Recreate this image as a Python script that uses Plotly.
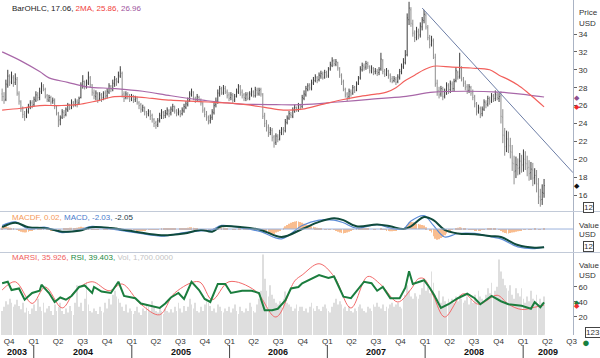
import pandas as pd
import plotly.graph_objects as go
from plotly.subplots import make_subplots

# ---------------- weekly price bars (USD) ----------------
close = [
27.0,26.6,28.4,29.3,28.6,29.2,28.5,29.0,27.4,26.5,
25.6,25.0,24.8,25.4,25.9,26.3,26.0,26.7,27.2,26.9,
27.6,28.2,27.9,27.0,26.7,26.9,26.4,26.6,25.9,25.2,
24.3,24.6,25.3,24.9,25.6,26.1,25.7,26.4,26.0,26.5,
26.2,26.8,28.3,28.7,28.1,28.6,29.2,28.4,27.5,27.1,
27.4,26.7,27.2,26.8,27.3,27.0,27.6,28.2,27.8,28.5,
28.9,28.6,29.4,30.0,27.2,26.8,27.3,27.0,26.7,27.1,
26.6,26.9,26.4,26.0,25.6,25.8,25.3,25.0,25.4,24.8,
24.5,24.0,23.8,24.3,24.9,25.3,24.9,25.2,25.5,25.1,
25.6,25.9,25.4,25.1,25.4,25.0,25.5,25.9,26.2,26.5,
27.3,27.6,26.9,26.6,27.0,26.7,26.3,25.5,25.0,24.6,
24.2,24.6,25.3,26.0,26.5,27.4,27.9,27.5,28.0,27.6,
27.1,26.8,27.2,26.6,27.0,27.6,28.2,27.4,27.1,26.9,
27.2,26.8,27.3,27.6,27.2,27.8,27.4,27.7,27.3,24.8,
24.0,23.5,22.9,23.3,22.4,21.8,22.6,22.2,23.0,23.3,
23.1,24.2,24.6,25.1,24.9,25.5,25.8,25.6,26.0,25.8,
26.9,27.3,27.9,28.2,28.0,28.6,28.9,29.2,28.8,29.4,
29.6,29.1,29.7,29.4,30.0,30.6,31.0,30.7,30.9,30.2,
29.4,28.6,27.9,27.2,26.9,27.6,27.3,28.0,27.7,28.4,
29.0,30.1,30.5,30.2,30.7,30.4,29.9,30.2,29.7,29.9,
29.6,30.0,31.2,29.8,29.5,29.9,29.3,28.9,28.7,29.0,
28.6,29.2,29.8,30.4,30.9,31.6,35.8,36.9,35.2,34.1,
33.6,34.3,33.8,34.9,35.6,36.2,34.8,33.6,32.8,33.3,
31.6,28.4,27.6,27.2,27.9,27.0,27.6,28.3,27.7,28.5,
27.9,28.7,29.9,29.2,30.2,29.0,28.4,28.0,27.6,28.1,
27.4,26.9,26.2,25.3,25.8,25.0,25.6,26.4,26.1,26.8,
26.5,27.1,26.7,27.3,26.9,27.0,24.8,22.7,21.4,22.3,
21.6,20.9,19.6,18.6,19.4,19.0,19.8,19.3,20.1,19.6,
19.0,18.4,18.9,17.9,18.2,17.3,15.9,15.4,16.3,17.06]

open_ = [
27.3,27.0,26.7,28.3,29.2,28.7,29.1,28.6,28.9,27.3,
26.4,25.7,25.1,24.9,25.3,25.8,26.3,26.1,26.6,27.1,
26.9,27.5,28.1,27.8,27.1,26.6,26.9,26.5,26.5,25.8,
25.1,24.4,24.7,25.2,25.0,25.5,26.0,25.8,26.3,26.1,
26.4,26.3,26.9,28.2,28.6,28.2,28.5,29.1,28.3,27.4,
27.0,27.3,26.8,27.1,26.9,27.4,27.1,27.5,28.1,27.9,
28.4,28.8,28.7,29.3,29.6,27.3,26.9,27.2,27.1,26.8,
27.0,26.7,26.8,26.3,26.1,25.5,25.7,25.2,25.1,25.3,
24.9,24.4,24.1,23.9,24.4,24.8,25.2,24.9,25.1,25.4,
25.2,25.5,25.8,25.4,25.2,25.3,25.1,25.4,25.8,26.1,
26.6,27.2,27.5,26.8,26.7,26.9,26.6,26.2,25.6,25.1,
24.7,24.3,24.7,25.2,26.1,26.4,27.3,27.8,27.4,27.9,
27.5,27.2,26.9,27.1,26.7,27.1,27.5,28.1,27.5,27.2,
26.8,27.3,26.9,27.2,27.5,27.1,27.7,27.3,27.8,27.2,
24.9,24.1,23.6,23.0,23.2,22.5,21.9,22.5,22.3,22.9,
23.4,23.2,24.1,24.6,25.0,24.8,25.4,25.7,25.5,26.1,
25.9,26.8,27.2,27.8,28.3,27.9,28.5,28.8,29.1,28.9,
29.3,29.5,29.2,29.6,29.3,30.1,30.5,31.0,30.6,30.8,
30.1,29.3,28.7,27.8,27.3,27.0,27.5,27.4,28.1,27.8,
28.5,29.1,30.0,30.4,30.3,30.6,30.3,29.8,30.1,29.8,
29.8,29.7,30.1,31.0,29.9,29.6,29.8,29.4,29.0,28.8,
28.9,28.7,29.1,29.7,30.3,30.8,31.7,35.6,36.7,35.1,
34.0,33.7,34.2,33.9,34.8,35.5,36.1,34.7,33.5,32.9,
33.2,31.4,28.5,27.7,27.3,27.8,27.1,27.5,28.2,27.8,
28.4,27.9,28.8,29.7,29.3,30.1,28.9,28.5,28.1,27.7,
28.0,27.5,27.0,26.1,25.4,25.7,25.1,25.6,26.3,26.2,
26.7,26.6,27.0,26.8,27.2,26.8,27.1,24.7,22.6,21.5,
22.2,21.5,20.8,19.5,18.7,19.3,19.1,19.7,19.4,20.0,
19.5,19.1,18.5,18.8,18.0,18.1,17.2,15.8,15.5,16.2]

high = [
27.9,27.5,28.9,30.0,29.5,29.8,29.4,29.6,29.2,27.6,
26.6,25.9,25.4,25.7,26.2,26.6,26.6,27.0,27.6,27.5,
28.0,28.6,28.4,28.0,27.3,27.2,27.1,26.9,26.8,26.0,
25.3,24.9,25.6,25.5,25.8,26.3,26.2,26.7,26.5,26.8,
26.7,27.0,28.6,29.4,28.8,28.9,29.8,29.3,28.4,27.8,
27.7,27.5,27.5,27.4,27.6,27.7,27.9,28.5,28.3,28.9,
29.3,29.1,29.8,30.4,29.8,27.6,27.6,27.5,27.3,27.3,
27.2,27.1,27.0,26.5,26.3,26.1,25.9,25.4,25.6,25.5,
25.1,24.6,24.3,24.6,25.2,25.6,25.4,25.5,25.8,25.6,
25.9,26.2,26.0,25.6,25.7,25.5,25.8,26.2,26.5,26.9,
27.6,27.9,27.6,27.0,27.3,27.1,26.8,26.4,25.8,25.4,
24.9,25.0,25.6,26.3,26.9,27.8,28.2,28.1,28.3,28.2,
27.8,27.5,27.5,27.4,27.3,27.9,28.4,28.3,27.8,27.4,
27.5,27.5,27.6,28.0,27.7,28.1,28.0,28.0,28.0,27.4,
25.2,24.4,23.9,23.6,23.5,22.7,22.9,22.8,23.3,23.6,
23.6,24.5,24.9,25.4,25.3,25.8,26.1,25.9,26.3,26.2,
27.2,27.7,28.2,28.5,28.5,28.9,29.2,29.5,29.3,29.7,
29.9,29.8,30.0,29.9,30.3,30.9,31.4,31.2,31.2,30.9,
30.3,29.6,28.9,28.0,27.5,27.9,27.8,28.3,28.2,28.7,
29.3,30.4,30.8,30.7,31.0,30.9,30.5,30.5,30.3,30.2,
30.1,30.3,31.9,31.2,30.1,30.2,30.0,29.6,29.3,29.3,
29.2,29.5,30.1,30.7,31.3,32.2,36.3,37.6,37.0,35.6,
34.4,34.8,34.6,35.3,35.9,36.7,36.4,35.0,33.9,33.8,
33.5,31.8,28.9,28.1,28.2,28.1,27.9,28.6,28.5,28.8,
28.7,29.0,30.3,29.9,31.9,30.4,29.2,28.8,28.4,28.4,
28.2,27.8,27.2,26.4,26.1,25.9,25.9,26.7,26.6,27.1,
27.0,27.4,27.3,27.7,27.5,27.4,27.6,25.6,23.5,23.2,
23.1,22.4,21.6,20.4,20.3,20.1,20.7,20.5,21.1,20.9,
20.4,19.9,19.7,19.6,19.0,18.8,17.9,16.7,17.2,17.8]

low = [
26.5,26.2,26.5,28.0,28.2,28.4,28.1,28.3,27.1,26.1,
25.3,24.6,24.3,24.6,25.1,25.6,25.7,25.9,26.4,26.5,
26.6,27.3,27.6,26.8,26.4,26.4,26.1,26.2,25.6,24.9,
23.6,23.8,24.5,24.6,24.8,25.3,25.5,25.6,25.8,25.9,
25.8,26.1,26.8,27.9,27.8,27.9,28.3,28.0,27.1,26.7,
26.6,26.3,26.5,26.4,26.6,26.7,26.8,27.3,27.5,27.6,
28.1,28.2,28.5,29.1,26.9,26.4,26.7,26.7,26.4,26.5,
26.3,26.4,26.1,25.6,25.2,25.3,24.9,24.6,24.8,24.4,
24.1,23.6,23.4,23.6,24.1,24.5,24.5,24.6,24.9,24.7,
24.9,25.3,25.1,24.8,24.9,24.7,24.9,25.2,25.6,25.9,
26.4,27.0,26.6,26.3,26.5,26.4,26.0,25.2,24.7,24.3,
23.9,24.0,24.4,25.0,25.8,26.2,27.0,27.2,27.2,27.3,
26.8,26.5,26.6,26.3,26.4,26.9,27.3,27.1,26.8,26.5,
26.5,26.6,26.6,27.0,26.9,26.9,27.1,27.1,27.0,24.5,
23.6,23.1,22.5,22.7,22.0,21.3,21.6,21.9,22.1,22.7,
22.7,23.0,23.9,24.4,24.6,24.6,25.2,25.3,25.3,25.5,
25.7,26.6,27.0,27.6,27.7,27.7,28.3,28.6,28.5,28.7,
29.0,28.9,29.0,29.1,29.1,29.9,30.3,30.4,30.4,29.9,
29.1,28.3,27.6,26.9,26.5,26.7,27.0,27.2,27.4,27.6,
28.3,28.9,29.8,29.9,30.0,30.1,29.6,29.6,29.4,29.5,
29.3,29.4,29.9,29.5,29.2,29.3,29.0,28.6,28.5,28.6,
28.3,28.5,28.9,29.5,30.1,30.6,31.5,35.0,34.8,33.7,
33.1,33.3,33.4,33.6,34.4,35.2,34.5,33.3,32.4,32.6,
31.2,28.1,27.1,26.8,27.0,26.6,26.8,27.2,27.3,27.4,
27.6,27.6,28.6,28.9,29.0,28.7,28.1,27.7,27.3,27.4,
27.1,26.6,25.8,24.9,25.1,24.6,24.8,25.4,25.7,25.9,
26.1,26.3,26.4,26.5,26.6,26.4,24.0,21.8,20.4,20.8,
20.7,20.1,18.7,17.2,17.9,18.2,18.3,18.5,18.6,18.8,
18.1,17.6,17.7,17.0,17.2,16.3,15.0,14.7,14.9,15.7]

# ---------------- moving averages (week index, value) ----------------
ma1_wk = [0,10,20,30,40,50,60,70,80,90,100,110,120,130,140,150,160,170,180,190,200,205,210,215,220,225,230,240,250,260,265,270,275,280,285,289]
ma1 = [25.5,25.7,26.0,26.0,26.1,26.5,27.0,27.0,26.8,26.6,26.5,26.4,26.3,26.1,25.8,25.5,25.6,26.1,26.6,27.0,27.3,27.5,28.0,28.8,29.4,30.0,30.4,30.3,30.2,30.0,29.4,28.9,28.3,27.5,26.6,25.86]
ma2_wk = [0,10,20,25,35,45,60,75,90,107,125,146,160,179,196,214,230,248,265,280,289]
ma2 = [32.0,31.0,29.8,29.1,28.6,28.1,27.9,27.6,27.1,26.6,26.2,26.1,26.1,26.4,26.7,27.0,27.5,27.6,27.5,27.2,26.96]

# ---------------- drawn trend line ----------------
trend_dates = ['2007-12-21', '2009-07-06']
trend_vals = [36.9, 18.5]

# ---------------- MACD ----------------
macd_wk = [0,7,14,23,32,41,48,58,71,85,97,106,112,117,128,138,149,160,169,177,182,189,200,207,214,218,225,230,236,243,252,261,266,275,284,289]
macd = [0.4,0.8,0.0,0.2,-0.4,-0.1,0.3,0.0,-0.4,-0.8,-0.4,-0.2,-0.1,0.4,0.1,-0.3,-1.1,0.4,1.0,1.0,0.7,0.1,0.5,0.1,0.0,0.9,1.5,0.4,-0.9,-0.5,-0.5,-0.9,-1.1,-2.0,-2.2,-2.03]
signal = [0.2,0.7,0.2,0.1,-0.3,-0.2,0.2,0.1,-0.3,-0.7,-0.5,-0.1,-0.3,0.3,0.2,-0.1,-0.9,0.0,0.8,1.2,1.0,0.3,0.5,0.3,0.0,0.3,1.35,1.0,-0.1,-0.5,-0.6,-0.8,-0.9,-1.8,-2.1,-2.05]
macdf = [
.2,.25,.3,.2,.15,.1,.05,0,-.1,-.2,
-.3,-.35,-.4,-.35,-.3,-.2,-.15,-.1,0,.05,
.1,.1,.05,0,-.05,-.1,-.15,-.2,-.2,-.15,
-.1,-.05,0,.05,.1,.1,.15,.15,.1,.1,
.15,.2,.25,.2,.15,.1,.05,0,-.05,-.1,
-.1,-.05,0,0,-.05,-.1,-.05,0,.05,.1,
.1,.15,.1,.05,-.1,-.15,-.2,-.2,-.15,-.1,
-.1,-.1,-.15,-.15,-.2,-.2,-.15,-.1,-.1,-.05,
-.05,-.1,-.1,-.05,0,.05,.05,.1,.1,.1,
.1,.05,.05,0,0,.05,.05,.1,.1,.15,
.2,.2,.15,.1,.05,0,-.05,-.1,-.15,-.2,
-.2,-.15,-.05,.05,.15,.2,.25,.2,.15,.1,
.05,0,0,-.05,-.05,0,.05,.05,0,-.05,
-.05,-.05,0,0,.05,.05,0,0,-.05,-.2,
-.35,-.45,-.55,-.6,-.6,-.55,-.4,-.3,-.15,0,
.15,.3,.45,.6,.7,.8,.85,.9,.85,.8,
.7,.6,.5,.45,.4,.3,.25,.2,.15,.1,
.05,0,-.05,-.1,-.1,-.05,0,-.1,-.2,-.3,
-.4,-.45,-.5,-.45,-.4,-.3,-.2,-.1,0,.05,
.1,.15,.15,.1,.1,.05,0,0,-.05,-.05,
0,0,.05,-.05,-.1,-.15,-.2,-.25,-.25,-.2,
-.15,-.1,-.05,0,.05,.1,.4,.7,.8,.75,
.7,.6,.55,.5,.45,.4,.2,0,-.2,-.4,
-.8,-1.1,-1.2,-1.15,-1.0,-.9,-.7,-.5,-.35,-.2,
-.1,0,.1,.15,.2,.15,.1,.05,0,-.05,
-.05,-.1,-.15,-.2,-.2,-.15,-.1,-.05,0,.05,
.05,.1,.1,.05,0,-.1,-.2,-.35,-.45,-.5,
-.5,-.45,-.4,-.35,-.3,-.25,-.2,-.15,-.1,-.05,
0,-.05,-.05,0,.05,0,-.05,-.05,0,.02]

# ---------------- RSI / MARSI ----------------
rsi_wk = [0,3,5,9,12,16,20,21,25,28,31,34,37,41,44,48,49,53,58,62,65,71,74,80,84,87,90,94,97,101,105,108,111,115,119,122,128,133,137,140,144,147,151,154,158,160,169,174,177,182,186,193,197,200,203,207,212,215,217,219,222,225,228,230,234,238,243,248,252,255,261,266,270,277,282,284,287,289]
rsi = [65,67,56,58,43,52,55,63,52,40,46,43,48,60,62,52,60,54,52,67,48,45,38,34,32,38,46,52,44,67,56,44,40,64,64,52,55,55,52,29,29,31,42,58,60,65,76,72,74,47,45,67,65,55,60,45,45,59,81,64,67,69,59,51,32,37,45,51,45,37,48,41,37,35,31,40,33,39.403]
marsi_wk = [0,7,16,23,32,39,48,57,64,74,84,92,105,112,121,135,146,156,160,169,177,186,195,202,211,218,222,225,230,236,246,254,264,270,277,284,289]
marsi = [56,67,38,60,32,55,67,55,64,37,23,52,67,43,67,55,20,68,76,91,74,32,74,63,40,57,71,71,48,20,51,37,49,37,30,33,35.926]

# ---------------- weekly volume (relative units) ----------------
volume = [
30,35,42,38,45,40,35,38,44,36,
32,40,28,34,30,26,33,38,30,45,
35,30,40,28,33,36,30,25,38,30,
35,40,30,26,33,28,36,30,25,40,
62,35,40,30,45,66,38,30,28,33,
30,26,35,30,28,40,33,45,38,50,
55,48,45,40,35,30,38,28,33,30,
26,30,35,28,25,33,30,38,35,30,
42,36,30,28,35,30,26,33,30,28,
32,28,35,30,40,33,28,36,30,35,
45,38,33,40,30,28,35,30,38,42,
40,36,30,33,28,38,35,30,28,33,
30,35,28,33,38,30,26,35,30,28,
33,30,40,35,30,28,38,45,55,100,
70,55,48,62,50,45,40,38,42,35,
45,54,40,38,35,30,33,38,30,35,
35,30,33,28,35,40,33,30,36,32,
30,35,38,33,30,28,35,40,45,38,
42,38,33,35,30,36,30,28,33,30,
35,38,33,30,28,35,33,30,38,35,
40,35,33,38,30,35,33,38,40,35,
38,40,35,33,45,50,62,55,48,45,
52,48,45,50,58,66,55,60,52,79,
65,50,45,55,40,48,42,38,45,40,
45,40,48,42,50,45,40,43,48,38,
45,40,50,42,55,48,45,40,50,58,
52,65,48,55,60,94,79,70,62,58,
55,62,50,45,58,52,48,58,45,40,
48,42,55,45,40,50,38,45,40,48]

# ---------------- axis labels ----------------
price_ticks = [16, 18, 20, 22, 24, 26, 28, 30, 32, 34]
rsi_ticks = [20, 40, 60]
quarter_starts = pd.date_range('2003-10-01', '2009-07-01', freq='QS')
quarter_text = ['Q%d' % ((d.month - 1) // 3 + 1) for d in quarter_starts]
year_labels = ['2003', '2004', '2005', '2006', '2007', '2008', '2009']

# ================= figure =================
dates = pd.date_range('2003-09-05', periods=len(close), freq='7D')
x_start, x_end = pd.Timestamp('2003-08-28'), pd.Timestamp('2009-07-06')


def wk(idx):
    return [dates[i] for i in idx]


FONT = 'Liberation Sans, Arial, sans-serif'
H = 335.0   # plot-area height in px
W = 573.0   # plot-area width in px


def py(p):
    return 1 - p / H


def px(p):
    return p / W


fig = make_subplots(rows=3, cols=1, shared_xaxes=True, vertical_spacing=0.003,
                    row_heights=[211, 41, 83],
                    specs=[[{}], [{}], [{"secondary_y": True}]])

# price panel
fig.add_trace(go.Ohlc(x=dates, open=open_, high=high, low=low, close=close,
                      increasing=dict(line=dict(color='#3c3c3c', width=1)),
                      decreasing=dict(line=dict(color='#8e8e8e', width=1)),
                      tickwidth=0.3, hoverinfo='skip', showlegend=False), row=1, col=1)
fig.add_trace(go.Scatter(x=wk(ma2_wk), y=ma2, mode='lines',
                         line=dict(color='#a867a8', width=1.2, shape='spline'),
                         showlegend=False), row=1, col=1)
fig.add_trace(go.Scatter(x=wk(ma1_wk), y=ma1, mode='lines',
                         line=dict(color='#f2605c', width=1.2, shape='spline'),
                         showlegend=False), row=1, col=1)
fig.add_trace(go.Scatter(x=trend_dates, y=trend_vals, mode='lines',
                         line=dict(color='#6d7ea6', width=1), showlegend=False), row=1, col=1)

# MACD panel
fig.add_trace(go.Bar(x=dates, y=macdf, marker=dict(color='#f9bd8f', line=dict(width=0)),
                     showlegend=False), row=2, col=1)
fig.add_trace(go.Scatter(x=wk(macd_wk), y=macd, mode='lines',
                         line=dict(color='#5b8bd6', width=1.2, shape='spline'),
                         showlegend=False), row=2, col=1)
fig.add_trace(go.Scatter(x=wk(macd_wk), y=signal, mode='lines',
                         line=dict(color='#0f4a3c', width=2, shape='spline'),
                         showlegend=False), row=2, col=1)

# RSI panel
fig.add_trace(go.Bar(x=dates, y=volume, marker=dict(color='#dedede', line=dict(width=0)),
                     showlegend=False), row=3, col=1, secondary_y=False)
fig.add_trace(go.Scatter(x=wk(marsi_wk), y=marsi, mode='lines',
                         line=dict(color='#f26a6a', width=1, shape='spline'),
                         showlegend=False), row=3, col=1, secondary_y=True)
fig.add_trace(go.Scatter(x=wk(rsi_wk), y=rsi, mode='lines',
                         line=dict(color='#1b7d3e', width=2),
                         showlegend=False), row=3, col=1, secondary_y=True)

axcol = '#aab3c4'
fig.update_xaxes(range=[x_start, x_end], showgrid=False, zeroline=False, showline=False,
                 rangeslider_visible=False, showticklabels=False, ticks='', domain=[0, 1])
fig.update_layout(
    xaxis3=dict(showticklabels=True, tickvals=list(quarter_starts), ticktext=quarter_text,
                tickfont=dict(size=8, color='#333', family=FONT), ticks=''),
    yaxis=dict(domain=[py(211), 1], range=[14.22, 37.8], side='right', tickvals=price_ticks,
               ticks='outside', ticklen=3, tickcolor='#666', showline=True, linecolor=axcol,
               showgrid=False, zeroline=False, tickfont=dict(size=8, color='#333', family=FONT)),
    yaxis2=dict(domain=[py(252), py(212)], range=[-2.58, 1.91], side='right',
                showticklabels=False, showline=True, linecolor=axcol, showgrid=False,
                zeroline=False),
    yaxis3=dict(domain=[0, py(253)], range=[0, 102], visible=False),
    yaxis4=dict(range=[-4, 105.3], side='right', tickvals=rsi_ticks, ticks='outside',
                ticklen=3, tickcolor='#666', showline=True, linecolor=axcol, showgrid=False,
                zeroline=False, tickfont=dict(size=8, color='#333', family=FONT)),
    width=600, height=358, margin=dict(l=0, r=27, t=0, b=23),
    paper_bgcolor='white', plot_bgcolor='white', bargap=0.6, showlegend=False,
    font=dict(family=FONT, size=8, color='#333'),
)

shapes = []
for yy in (211.5, 252.5):
    shapes.append(dict(type='line', xref='paper', yref='paper', x0=0, x1=600 / W,
                       y0=py(yy), y1=py(yy), line=dict(color='#c2cad8', width=1)))
shapes.append(dict(type='line', xref='paper', yref='y2', x0=0, x1=1, y0=0, y1=0,
                   line=dict(color='#9bb3dc', width=1)))
for y in range(2004, 2010):
    shapes.append(dict(type='line', xref='x3', yref='paper', x0='%d-01-01' % y,
                       x1='%d-01-01' % y, y0=py(345), y1=py(358),
                       line=dict(color='#444', width=1)))
fig.update_layout(shapes=shapes)

ann = []


def text(xp, yp, t, size=8, color='#333', xanchor='left', bold=False, **kw):
    ann.append(dict(x=xp, y=yp, xref='paper', yref='paper', text=('<b>%s</b>' % t) if bold else t,
                    showarrow=False, xanchor=xanchor, yanchor='middle',
                    font=dict(size=size, color=color, family=FONT), **kw))


# headers
text(px(10), py(8), "BarOHLC, %.2f, <span style='color:#f0403c'>2MA, %.2f, </span>"
     "<span style='color:#a0569e'>%.2f</span>" % (close[-1], ma1[-1], ma2[-1]), color='#222')
text(px(10), py(217), "<span style='color:#f59a5a'>MACDF, %.2f, </span>"
     "<span style='color:#4a7ccc'>MACD, %.2f, </span><span style='color:#1d3b4a'>%.2f</span>"
     % (macdf[-1], macd[-1], signal[-1]))
text(px(10), py(257), "<span style='color:#f06060'>MARSI, %.3f, </span>"
     "<span style='color:#1b8a44'>RSI, %.3f, </span><span style='color:#c4c4c4'>Vol, 1,700.0000</span>"
     % (marsi[-1], rsi[-1]))

# right-side labels
text(px(577), py(13), 'Price')
text(px(577), py(23), 'USD')
text(px(577), py(225), 'Value')
text(px(577), py(234), 'USD')
text(px(577), py(265), 'Value')
text(px(577), py(275), 'USD')
for (xx, yy, t) in ((583, 207, '12'), (583, 246, '12'), (585, 332, '123')):
    text(px(xx), py(yy), t, bordercolor='#444', borderwidth=1, borderpad=0, bgcolor='white')

# last-value diamonds
for (val, yref, col) in ((ma2[-1], 'y', '#8e4f8e'), (ma1[-1], 'y', '#f02828'),
                         (close[-1], 'y', '#111'), (rsi[-1], 'y4', '#1b7d3e'),
                         (marsi[-1], 'y4', '#f03030')):
    ann.append(dict(x=px(577), y=val, xref='paper', yref=yref, text='◆', showarrow=False,
                    xanchor='center', yanchor='middle', font=dict(size=7, color=col)))
ann.append(dict(x=px(586), y=py(342), xref='paper', yref='paper', text='●', showarrow=False,
                xanchor='center', yanchor='middle', font=dict(size=13, color='#17803f')))

# year labels (centred in the visible part of each year)
for y in year_labels:
    a = max(pd.Timestamp('%s-01-01' % y), x_start)
    b = min(pd.Timestamp('%d-01-01' % (int(y) + 1)), x_end)
    mid = a + (b - a) / 2
    ann.append(dict(x=mid, y=py(352), xref='x3', yref='paper', text='<b>%s</b>' % y,
                    showarrow=False, xanchor='center', yanchor='middle',
                    font=dict(size=9, color='#111', family=FONT)))

fig.update_layout(annotations=ann)
fig.write_html("out.html", config={'displayModeBar': False},
               post_script="document.body.style.margin='0';")
